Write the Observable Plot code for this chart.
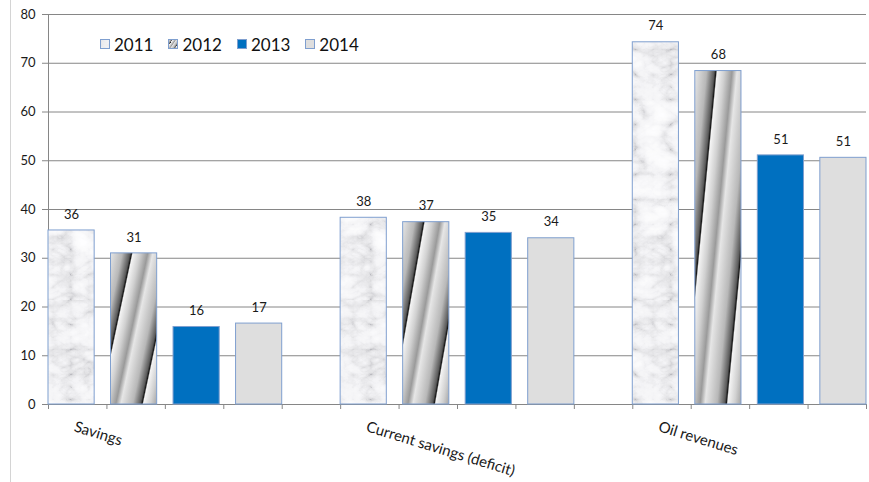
<!DOCTYPE html>
<html>
<head>
<meta charset="utf-8">
<script src="https://cdn.jsdelivr.net/npm/d3@7"></script>
<script src="https://cdn.jsdelivr.net/npm/@observablehq/plot@0.6"></script>
<style>
  body { margin: 0; background: #fff; }
  #chart { position: relative; width: 869px; height: 482px; overflow: hidden; }
  #chart::before { content: ""; position: absolute; left: 10px; top: 0; bottom: 0; border-left: 1px solid #d4d4d4; }
  #chart svg text { fill: #1a1a1a; }
  #legend { position: absolute; left: 100px; top: 34px; display: flex; align-items: center; font: 17px Lato, sans-serif; color: #111; }
  #legend .item { display: flex; align-items: center; margin-right: 15px; }
  #legend svg { margin-right: 3px; }
</style>
</head>
<body>
<div id="chart"></div>
<script>
// ---- data ----
const categories = ["Savings", "Current savings (deficit)", "Oil revenues"];
const years = ["2011", "2012", "2013", "2014"];
const values2011 = [35.7, 38.3, 74.3];
const values2012 = [31.0, 37.4, 68.4];
const values2013 = [15.9, 35.2, 51.1];
const values2014 = [16.6, 34.1, 50.6];
const yTicks = [0, 10, 20, 30, 40, 50, 60, 70, 80];

// ---- layout (category slots on a linear axis) ----
const GROUP = 5;        // slots per category incl. gap
const BAR_STEP = 1.07;  // slot distance between bars in a group
const BAR_W = 0.79;     // bar width in slots
const xTicks = d3.range(0, categories.length * GROUP);

const series = [values2011, values2012, values2013, values2014];
const rows = [];
categories.forEach((c, i) => years.forEach((yr, j) => rows.push({category: c, year: yr, value: series[j][i], i, j})));
const left = d => d.i * GROUP + d.j * BAR_STEP;

const fills = ["url(#marble)", "url(#metal)", "#0070c0", "#dedede"];
const strokeColor = "#7f9fcf";

const barMarks = years.map((yr, j) =>
  Plot.rectY(rows.filter(d => d.year === yr), {
    x1: left, x2: d => left(d) + BAR_W, y1: 0, y2: "value",
    fill: fills[j], stroke: strokeColor, strokeWidth: 1
  })
);

const plot = Plot.plot({
  width: 869, height: 482,
  marginLeft: 48, marginRight: 3, marginTop: 14, marginBottom: 78,
  style: {color: "#868686", fontFamily: "Lato, sans-serif", background: "transparent"},
  x: {domain: [0, categories.length * GROUP - 1], ticks: xTicks, tickFormat: () => "", tickSize: 5, line: true, label: null},
  y: {domain: [0, 80], ticks: yTicks, tickSize: 6, tickPadding: 7, line: true, label: null},
  marks: [
    Plot.ruleY(yTicks, {stroke: "#868686", strokeWidth: 1}),
    ...barMarks,
    Plot.text(rows, {
      x: d => left(d) + BAR_W / 2, y: "value",
      text: d => d3.format(".0f")(d.value), dy: -16, fontSize: 13
    }),
    Plot.text(categories, {
      x: (d, i) => i * GROUP + BAR_W / 2, y: () => 0,
      text: d => d, dx: 3, dy: 22, rotate: 17, textAnchor: "start", fontSize: 15
    })
  ]
});

d3.select(plot).style("font-size", "13px");

const defs = `
<defs>
  <filter id="marbleFilter" x="0" y="0" width="100%" height="100%">
    <feTurbulence type="turbulence" baseFrequency="0.028 0.04" numOctaves="5" seed="11" result="n"/>
    <feColorMatrix in="n" type="saturate" values="0" result="g"/>
    <feComponentTransfer in="g">
      <feFuncR type="table" tableValues="0.5 0.76 0.9 0.96 0.99 1 1"/>
      <feFuncG type="table" tableValues="0.5 0.76 0.9 0.96 0.99 1 1"/>
      <feFuncB type="table" tableValues="0.53 0.78 0.92 0.97 1 1 1"/>
      <feFuncA type="linear" slope="0" intercept="1"/>
    </feComponentTransfer>
  </filter>
  <pattern id="marble" patternUnits="userSpaceOnUse" width="300" height="300">
    <rect width="300" height="300" fill="#eee" filter="url(#marbleFilter)"/>
  </pattern>
  <linearGradient id="metal" gradientUnits="objectBoundingBox" x1="0" y1="0" x2="0.62" y2="0.43" spreadMethod="repeat">
    <stop offset="0" stop-color="#e6e6e6"/>
    <stop offset="0.28" stop-color="#b8b8b8"/>
    <stop offset="0.46" stop-color="#5a5a5a"/>
    <stop offset="0.5" stop-color="#151515"/>
    <stop offset="0.53" stop-color="#f4f4f4"/>
    <stop offset="0.7" stop-color="#d0d0d0"/>
    <stop offset="0.88" stop-color="#9a9a9a"/>
    <stop offset="1" stop-color="#e6e6e6"/>
  </linearGradient>
</defs>`;
d3.select(plot).insert("g", ":first-child").html(defs);

const chart = document.getElementById("chart");
chart.appendChild(plot);

// legend
const legend = document.createElement("div");
legend.id = "legend";
years.forEach((yr, j) => {
  const item = document.createElement("div");
  item.className = "item";
  item.innerHTML = `<svg width="11" height="11"><rect x="0.5" y="0.5" width="9" height="9" fill="${fills[j]}" stroke="${strokeColor}"/></svg><span>${yr}</span>`;
  legend.appendChild(item);
});
chart.appendChild(legend);
</script>
</body>
</html>
